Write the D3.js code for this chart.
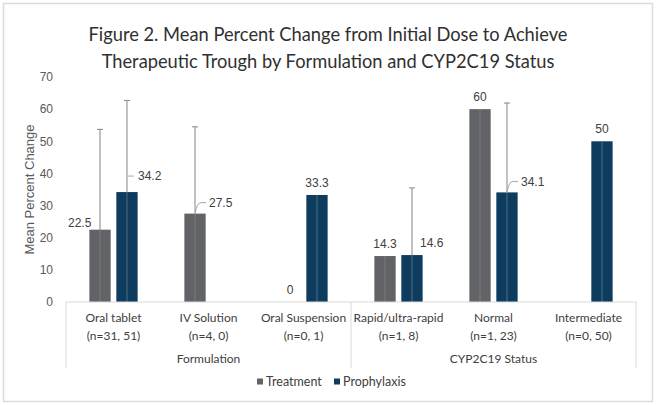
<!DOCTYPE html>
<html lang="en">
  <head>
    <meta charset="UTF-8" />
    <title>Figure 2</title>
    <style>
      body { margin: 0; background: #fff; }
    </style>
  </head>
  <body>
    <svg id="chart" width="657" height="406"></svg>
    <script src="https://cdn.jsdelivr.net/npm/d3@7"></script>
    <script>
      var width = 657;
      var height = 406;

      // data
      var categories = ['Oral tablet', 'IV Solution', 'Oral Suspension', 'Rapid/ultra-rapid', 'Normal', 'Intermediate'];
      var counts = ['(n=31, 51)', '(n=4, 0)', '(n=0, 1)', '(n=1, 8)', '(n=1, 23)', '(n=0, 50)'];
      var groups = ['Formulation', 'CYP2C19 Status'];
      var groupSizes = [3, 3];
      var series = ['Treatment', 'Prophylaxis'];
      var treatment = [22.5, 27.5, 0, 14.3, 60, null];
      var prophylaxis = [34.2, null, 33.3, 14.6, 34.1, 50];
      var treatmentSD = [31.2, 27.0, null, null, null, null];
      var prophylaxisSD = [28.5, null, null, 20.9, 27.8, null];
      var yTicks = [0, 10, 20, 30, 40, 50, 60, 70];

      var colors = { Treatment: '#616367', Prophylaxis: '#0d3c5e' };
      var innerLine = { Treatment: '#7b7d80', Prophylaxis: '#4d6f88' };

      // label placement: default = centred above, 'left' / 'right' next to bar, leader = callout line
      var labelPlace = {
        'Treatment|0': { side: 'left' },
        'Prophylaxis|0': { side: 'right', leader: 'flat' },
        'Treatment|1': { side: 'right', leader: 'bent' },
        'Prophylaxis|3': { side: 'right' },
        'Prophylaxis|4': { side: 'right', leader: 'bent' }
      };

      var margin = { left: 66, right: 21, top: 77, bottom: 104 };
      var svg = d3.select('#chart');

      // frame
      svg.append('rect')
        .attr('x', 3.5).attr('y', 3.5)
        .attr('width', 649).attr('height', 398)
        .attr('fill', '#fff')
        .attr('stroke', '#dcdcdc')
        .attr('stroke-width', 1.5);

      svg.append('text')
        .attr('x', 328).attr('y', 41)
        .attr('text-anchor', 'middle')
        .style('font', '18.3px Lato, sans-serif')
        .attr('fill', '#303030')
        .selectAll('tspan')
        .data(['Figure 2. Mean Percent Change from Initial Dose to Achieve',
               'Therapeutic Trough by Formulation and CYP2C19 Status'])
        .join('tspan')
        .attr('x', 328)
        .attr('dy', (d, i) => i ? 27 : 0)
        .text(d => d);

      var x = d3.scaleBand()
        .domain(categories)
        .range([margin.left, width - margin.right]);

      var bw = x.bandwidth();
      var xs = d3.scaleBand()
        .domain(series)
        .range([bw * 0.246, bw * 0.754])
        .paddingInner(0.21);

      var y = d3.scaleLinear()
        .domain([0, 70])
        .range([height - margin.bottom, margin.top]);

      // y axis labels
      var yAxis = d3.axisLeft(y).tickValues(yTicks).tickSize(0).tickPadding(13);
      svg.append('g')
        .attr('transform', `translate(${margin.left},0)`)
        .call(yAxis)
        .call(g => g.select('.domain').remove())
        .selectAll('text')
        .style('font', '12px "Liberation Sans", Arial, sans-serif')
        .attr('fill', '#595959');

      svg.append('text')
        .attr('transform', `translate(29,${(y(0) + y(70)) / 2}) rotate(-90)`)
        .attr('text-anchor', 'middle')
        .attr('dy', '0.35em')
        .style('font', '13px "Liberation Sans", Arial, sans-serif')
        .attr('fill', '#595959')
        .text('Mean Percent Change');

      // rows of bars
      var rows = [];
      categories.forEach((c, i) => {
        rows.push({ s: 'Treatment', i: i, cat: c, v: treatment[i], sd: treatmentSD[i] });
        rows.push({ s: 'Prophylaxis', i: i, cat: c, v: prophylaxis[i], sd: prophylaxisSD[i] });
      });
      var shown = rows.filter(d => d.v !== null);
      var cx = d => x(d.cat) + xs(d.s) + xs.bandwidth() / 2;

      var bars = svg.append('g');
      bars.selectAll('rect')
        .data(shown.filter(d => d.v > 0))
        .join('rect')
        .attr('x', d => x(d.cat) + xs(d.s))
        .attr('y', d => y(d.v))
        .attr('width', xs.bandwidth())
        .attr('height', d => y(0) - y(d.v))
        .attr('fill', d => colors[d.s]);

      // faint inner line down the middle of each bar
      bars.selectAll('line')
        .data(shown.filter(d => d.v > 0))
        .join('line')
        .attr('x1', cx).attr('x2', cx)
        .attr('y1', d => y(d.v)).attr('y2', y(0))
        .attr('stroke', d => innerLine[d.s])
        .attr('stroke-width', 1);

      // error bars
      var err = svg.append('g')
        .attr('stroke', '#8f8f8f')
        .attr('stroke-width', 1.1)
        .selectAll('g')
        .data(shown.filter(d => d.sd))
        .join('g');
      err.append('line')
        .attr('x1', cx).attr('x2', cx)
        .attr('y1', d => y(d.v)).attr('y2', d => y(d.v + d.sd));
      err.append('line')
        .attr('x1', d => cx(d) - 3).attr('x2', d => cx(d) + 3)
        .attr('y1', d => y(d.v + d.sd)).attr('y2', d => y(d.v + d.sd));

      // data labels
      var fmt = v => String(v);
      var labels = svg.append('g')
        .style('font', '12px "Liberation Sans", Arial, sans-serif')
        .attr('fill', '#404040');
      var leaders = svg.append('g')
        .attr('fill', 'none')
        .attr('stroke', '#a6a6a6')
        .attr('stroke-width', 1);

      shown.forEach(d => {
        var p = labelPlace[d.s + '|' + d.i];
        var top = y(d.v);
        var c = cx(d);
        var half = xs.bandwidth() / 2;
        if (!p) {
          labels.append('text')
            .attr('x', c).attr('y', top - 8)
            .attr('text-anchor', 'middle')
            .text(fmt(d.v));
        } else if (p.side === 'left') {
          labels.append('text')
            .attr('x', c - half + 2).attr('y', top - 3)
            .attr('text-anchor', 'end')
            .text(fmt(d.v));
        } else if (p.leader === 'flat') {
          var ly = top - 16;
          leaders.append('path').attr('d', `M${c + 1},${ly}H${c + 7}`);
          labels.append('text')
            .attr('x', c + 11).attr('y', ly).attr('dy', '0.35em')
            .text(fmt(d.v));
        } else if (p.leader === 'bent') {
          var by = top - 11;
          leaders.append('path')
            .attr('d', `M${c},${top}Q${c + 2},${by} ${c + 6},${by}H${c + 11}`);
          labels.append('text')
            .attr('x', c + 14).attr('y', by).attr('dy', '0.35em')
            .text(fmt(d.v));
        } else {
          labels.append('text')
            .attr('x', c + 8).attr('y', top - 8)
            .text(fmt(d.v));
        }
      });

      // category axis
      var axis = svg.append('g')
        .attr('stroke', '#d9d9d9')
        .attr('stroke-width', 1);
      axis.append('line')
        .attr('x1', x.range()[0]).attr('x2', x.range()[1])
        .attr('y1', y(0)).attr('y2', y(0));
      var bounds = [0];
      groupSizes.forEach(n => bounds.push(bounds[bounds.length - 1] + n));
      bounds.forEach(b => {
        var bx = b < categories.length ? x(categories[b]) : x.range()[1];
        axis.append('line')
          .attr('x1', bx).attr('x2', bx)
          .attr('y1', y(0)).attr('y2', y(0) + 66);
      });

      var catText = svg.append('g')
        .style('font', '12px Lato, sans-serif')
        .attr('fill', '#404040')
        .attr('text-anchor', 'middle');
      catText.selectAll('text.c')
        .data(categories)
        .join('text')
        .attr('class', 'c')
        .attr('x', d => x(d) + bw / 2)
        .attr('y', y(0) + 20)
        .text(d => d);
      catText.selectAll('text.n')
        .data(counts)
        .join('text')
        .attr('class', 'n')
        .attr('x', (d, i) => x(categories[i]) + bw / 2)
        .attr('y', y(0) + 38)
        .text(d => d);
      catText.selectAll('text.g')
        .data(groups)
        .join('text')
        .attr('class', 'g')
        .attr('x', (d, i) => {
          var a = x(categories[bounds[i]]);
          var b = x(categories[bounds[i + 1] - 1]) + bw;
          return (a + b) / 2;
        })
        .attr('y', y(0) + 61)
        .text(d => d);

      // legend
      var legend = svg.append('g')
        .style('font', '12.5px Lato, sans-serif')
        .attr('fill', '#404040');
      var lx = [257, 334];
      series.forEach((s, i) => {
        legend.append('rect')
          .attr('x', lx[i]).attr('y', 378.5)
          .attr('width', 6).attr('height', 6)
          .attr('fill', colors[s]);
        legend.append('text')
          .attr('x', lx[i] + 9).attr('y', 386)
          .text(s);
      });
    </script>
  </body>
</html>
